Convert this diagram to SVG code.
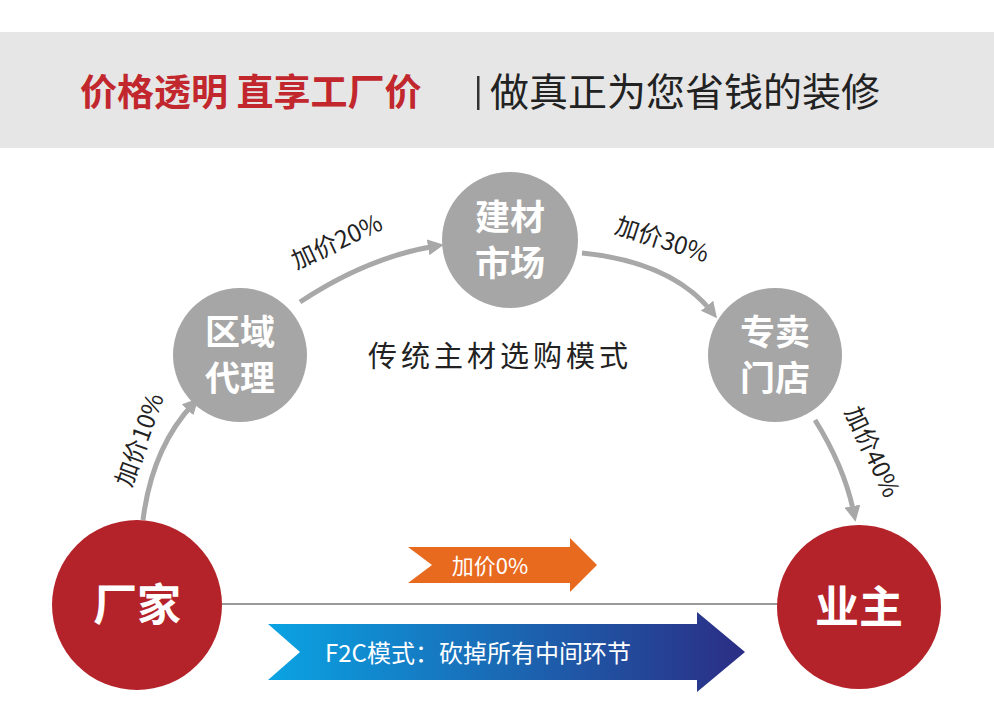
<svg xmlns="http://www.w3.org/2000/svg" width="994" height="702" viewBox="0 0 994 702">
<style>
text{font-family:"Noto Sans CJK SC","Liberation Sans",sans-serif}
.gc{fill:#a6a6a6}
.rc{fill:#b5232a}
.gt{fill:#fff;font-size:35px;font-weight:bold;text-anchor:middle}
.rt{fill:#fff;font-size:44px;font-weight:bold;text-anchor:middle}
.lb{fill:#222;font-size:24px;text-anchor:middle}
.cn{fill:none;stroke:#a8a8a8;stroke-width:5}
</style>
<defs>
<marker id="ah" viewBox="0 0 10 10" refX="5" refY="5" markerWidth="3.2" markerHeight="3.2" orient="auto"><path d="M0,0L10,5L0,10z" fill="#a8a8a8"/></marker>
<linearGradient id="bg" x1="0" x2="1" y1="0" y2="0"><stop offset="0" stop-color="#0aa3e3"/><stop offset="1" stop-color="#2b2d84"/></linearGradient>
</defs>
<rect width="994" height="702" fill="#fff"/>
<rect x="0" y="32" width="994" height="116" fill="#e6e6e6"/>
<text x="80" y="106" font-size="37" font-weight="bold" fill="#c1272d">价格透明 直享工厂价</text>
<rect x="477" y="76" width="2.5" height="34" fill="#333"/>
<text x="490" y="106" font-size="39" fill="#222">做真正为您省钱的装修</text>
<g id="connectors">
<path class="cn" d="M143,520 Q152,448 193,404" marker-end="url(#ah)"/>
<path class="cn" d="M300,302 Q368,257 436,246" marker-end="url(#ah)"/>
<path class="cn" d="M582,253 Q672,262 712,312" marker-end="url(#ah)"/>
<path class="cn" d="M815,420 Q845,468 854,514" marker-end="url(#ah)"/>
<line x1="222" y1="604" x2="778" y2="604" stroke="#9a9a9a" stroke-width="2"/>
<text class="lb" transform="translate(140,440) rotate(-70)" y="8">加价10%</text>
<text class="lb" transform="translate(337,242) rotate(-25)" y="8">加价20%</text>
<text class="lb" transform="translate(662,240) rotate(18)" y="8">加价30%</text>
<text class="lb" transform="translate(872,452) rotate(65)" y="8">加价40%</text>
</g>
<g id="n-factory"><circle class="rc" cx="137" cy="605" r="85"/><text class="rt" x="137" y="621">厂家</text></g>
<g id="n-owner"><circle class="rc" cx="859" cy="607" r="82"/><text class="rt" x="859" y="623">业主</text></g>
<g id="n-agent"><circle class="gc" cx="240" cy="355" r="67"/><text class="gt" x="240" y="345">区域</text><text class="gt" x="240" y="391">代理</text></g>
<g id="n-market"><circle class="gc" cx="510" cy="240" r="68"/><text class="gt" x="510" y="230">建材</text><text class="gt" x="510" y="276">市场</text></g>
<g id="n-store"><circle class="gc" cx="775" cy="355" r="67"/><text class="gt" x="775" y="345">专卖</text><text class="gt" x="775" y="391">门店</text></g>
<text x="500" y="367" font-size="29" letter-spacing="4" fill="#222" text-anchor="middle">传统主材选购模式</text>
<g id="orange-arrow"><polygon points="408,547 570,547 570,538 597,565 570,592 570,583 408,583 432,565" fill="#e86a1f"/><text x="490" y="574" font-size="22" fill="#fff" text-anchor="middle">加价0%</text></g>
<g id="blue-arrow"><polygon points="268,624 697,624 697,612 745,652 697,692 697,680 268,680 300,652" fill="url(#bg)"/><text x="325" y="662" font-size="24" fill="#fff">F2C模式：砍掉所有中间环节</text></g>
</svg>
